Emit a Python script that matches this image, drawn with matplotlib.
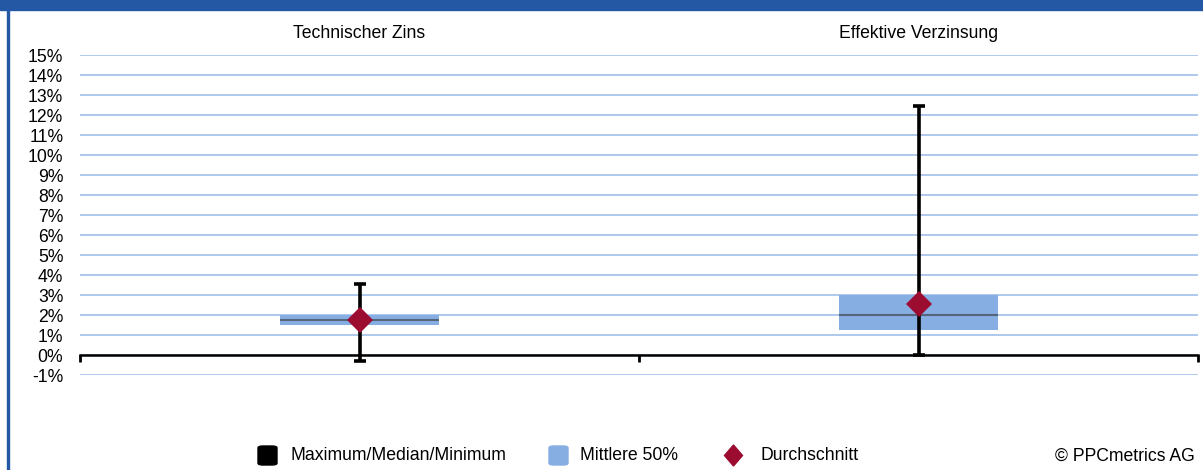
import matplotlib
matplotlib.use("Agg")
import matplotlib.pyplot as plt
from matplotlib.patches import Rectangle, FancyBboxPatch, Polygon
from matplotlib.ticker import FuncFormatter, MultipleLocator

plt.rcParams['font.family'] = ['Liberation Sans', 'DejaVu Sans']

# ---- data ----
categories = ["Technischer Zins", "Effektive Verzinsung"]
maximum = [3.55, 12.45]
q3 = [2.0, 3.0]
median = [1.75, 2.0]
q1 = [1.5, 1.25]
minimum = [-0.3, 0.0]
mean = [1.75, 2.55]
y_ticks = list(range(-1, 16))

W, H = 1203, 470
fig = plt.figure(figsize=(W / 100, H / 100), dpi=100)

BLUE_FRAME = "#2457a4"
BOX = "#86aee3"
MEAN_C = "#9c0b30"
GRID = "#a9c4e8"
FS = 12.7

# frame: top bar and left border
fig.patches.append(Rectangle((0, 1 - 10 / H), 1, 10 / H, transform=fig.transFigure,
                             color=BLUE_FRAME, zorder=0))
fig.patches.append(Rectangle((7 / W, 0), 2 / W, 1, transform=fig.transFigure,
                             color=BLUE_FRAME, zorder=0))

ax = fig.add_axes([80 / W, (H - 375) / H, (1198 - 80) / W, 320 / H])
ax.set_xlim(-0.5, 1.5)
ax.set_ylim(-1, 15)

x = list(range(len(categories)))
bw = 0.286
for i in x:
    ax.bar(i, q3[i] - q1[i], bottom=q1[i], width=bw, color=BOX, zorder=3, linewidth=0)
    ax.hlines(median[i], i - bw / 2, i + bw / 2, color="#56657a", lw=1.5, zorder=4)

lower = [m - mn for m, mn in zip(median, minimum)]
upper = [mx - m for m, mx in zip(median, maximum)]
ax.errorbar(x, median, yerr=[lower, upper], fmt="none", ecolor="black",
            elinewidth=2.6, capsize=4.3, capthick=2.6, zorder=5)
ax.plot(x, mean, linestyle="none", marker="D", markersize=13.5,
        color=MEAN_C, markeredgewidth=0, zorder=6)

for i, c in enumerate(categories):
    ax.text(i, 16.1, c, ha="center", va="center", fontsize=FS, clip_on=False)

# axes styling
ax.yaxis.set_major_locator(MultipleLocator(1))
ax.yaxis.set_major_formatter(FuncFormatter(lambda v, p: f"{int(round(v))}%"))
ax.set_yticks(y_ticks)
ax.tick_params(axis="y", length=0, pad=12, labelsize=FS)
ax.grid(axis="y", color=GRID, lw=1.3, zorder=0)
ax.set_axisbelow(True)
for s in ["left", "right", "top"]:
    ax.spines[s].set_visible(False)
ax.spines["bottom"].set_position(("data", 0))
ax.spines["bottom"].set_linewidth(1.8)
ax.spines["bottom"].set_zorder(2)
ax.set_xticks([-0.5, 0.5, 1.5])
ax.set_xticklabels([])
ax.tick_params(axis="x", direction="out", length=5, width=2)

# legend (manual)
ly = (H - 456) / H
def fx(px):
    return px / W
sq = 19
fig.patches.append(FancyBboxPatch((fx(258), (H - 465) / H), sq / W, sq / H,
                                  boxstyle="round,pad=0,rounding_size=0.004",
                                  transform=fig.transFigure, color="black"))
fig.text(fx(290), ly, "Maximum/Median/Minimum", fontsize=FS, va="center", ha="left")
fig.patches.append(FancyBboxPatch((fx(549), (H - 465) / H), sq / W, sq / H,
                                  boxstyle="round,pad=0,rounding_size=0.004",
                                  transform=fig.transFigure, color=BOX))
fig.text(fx(580), ly, "Mittlere 50%", fontsize=FS, va="center", ha="left")
cx, cy = 733.5, 455.5
fig.patches.append(Polygon([(fx(cx - 9), (H - cy) / H), (fx(cx), (H - cy - 10.5) / H),
                            (fx(cx + 9), (H - cy) / H), (fx(cx), (H - cy + 10.5) / H)],
                           closed=True, transform=fig.transFigure, color=MEAN_C))
fig.text(fx(760), ly, "Durchschnitt", fontsize=FS, va="center", ha="left")
fig.text(fx(1195), ly, "© PPCmetrics AG", fontsize=FS, va="center", ha="right")

fig.savefig("out.png", dpi=100)
